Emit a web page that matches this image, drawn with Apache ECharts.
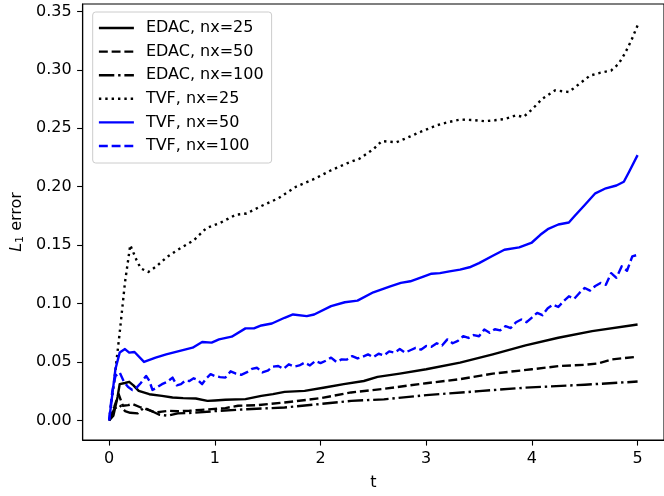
<!DOCTYPE html>
<html>
<head>
<meta charset="utf-8">
<script src="https://cdn.jsdelivr.net/npm/echarts@6/dist/echarts.min.js"></script>
<style>html,body{margin:0;padding:0;background:#fff}#c{width:664px;height:496px}</style>
</head>
<body>
<div id="c"></div>
<script>
// ---- data ----
const seriesNames = ['EDAC, nx=25', 'EDAC, nx=50', 'EDAC, nx=100', 'TVF, nx=25', 'TVF, nx=50', 'TVF, nx=100'];
const xTicks = [0, 1, 2, 3, 4, 5];
const yTicks = [0, 0.05, 0.10, 0.15, 0.20, 0.25, 0.30, 0.35];

const tEdac25 = [0, 0.04, 0.08, 0.1, 0.15, 0.19, 0.23, 0.28, 0.38, 0.5, 0.6, 0.7, 0.82, 0.93, 1.0, 1.1, 1.29, 1.44, 1.55, 1.66, 1.85, 2.04, 2.22, 2.41, 2.54, 2.75, 3.0, 3.32, 3.63, 3.94, 4.25, 4.57, 5.0];
const vEdac25 = [0, 0.004, 0.02, 0.031, 0.032, 0.033, 0.030, 0.0252, 0.0224, 0.021, 0.0196, 0.019, 0.0187, 0.0167, 0.017, 0.0176, 0.0182, 0.021, 0.0225, 0.0244, 0.0252, 0.0281, 0.031, 0.0337, 0.0372, 0.040, 0.0437, 0.0494, 0.0565, 0.0642, 0.0707, 0.0764, 0.082];

const tEdac50 = [0, 0.05, 0.09, 0.13, 0.18, 0.22, 0.3, 0.35, 0.44, 0.5, 0.57, 0.65, 0.76, 0.87, 0.97, 1.1, 1.22, 1.4, 1.66, 2.0, 2.29, 2.6, 3.0, 3.3, 3.63, 4.0, 4.26, 4.5, 4.63, 4.76, 5.0];
const vEdac50 = [0, 0.012, 0.0224, 0.0125, 0.013, 0.014, 0.011, 0.0096, 0.0068, 0.0075, 0.0082, 0.0078, 0.0082, 0.009, 0.0096, 0.0105, 0.0125, 0.013, 0.0153, 0.019, 0.0239, 0.027, 0.0318, 0.035, 0.040, 0.0437, 0.0465, 0.0475, 0.0488, 0.0522, 0.0545];

const tEdac100 = [0, 0.05, 0.1, 0.15, 0.2, 0.27, 0.33, 0.4, 0.47, 0.55, 0.65, 0.8, 1.04, 1.3, 1.66, 2.0, 2.29, 2.6, 3.0, 3.5, 3.94, 4.5, 5.0];
const vEdac100 = [0, 0.01, 0.013, 0.008, 0.0065, 0.006, 0.011, 0.008, 0.005, 0.004, 0.006, 0.0065, 0.0082, 0.0095, 0.011, 0.014, 0.0167, 0.018, 0.0216, 0.025, 0.028, 0.0305, 0.0332];

const tTvf25 = [0, 0.05, 0.1, 0.15, 0.2, 0.26, 0.3, 0.37, 0.45, 0.55, 0.65, 0.8, 0.92, 1.05, 1.2, 1.3, 1.43, 1.6, 1.77, 1.95, 2.1, 2.25, 2.37, 2.5, 2.58, 2.72, 2.85, 2.95, 3.1, 3.2, 3.32, 3.45, 3.55, 3.65, 3.75, 3.85, 3.92, 4.0, 4.1, 4.22, 4.35, 4.45, 4.55, 4.65, 4.75, 4.82, 4.88, 4.94, 5.0];
const vTvf25 = [0, 0.035, 0.075, 0.118, 0.150, 0.137, 0.130, 0.127, 0.132, 0.140, 0.146, 0.154, 0.1645, 0.169, 0.176, 0.177, 0.183, 0.190, 0.200, 0.207, 0.214, 0.220, 0.224, 0.232, 0.239, 0.238, 0.243, 0.247, 0.2525, 0.255, 0.2574, 0.257, 0.256, 0.2568, 0.258, 0.261, 0.2596, 0.266, 0.2753, 0.2824, 0.281, 0.288, 0.295, 0.2975, 0.2994, 0.305, 0.314, 0.325, 0.338];

const tTvf50 = [0, 0.03, 0.06, 0.1, 0.15, 0.19, 0.24, 0.33, 0.44, 0.54, 0.66, 0.79, 0.88, 0.97, 1.04, 1.16, 1.29, 1.37, 1.44, 1.54, 1.66, 1.74, 1.87, 1.94, 2.1, 2.23, 2.35, 2.5, 2.66, 2.76, 2.85, 2.98, 3.05, 3.13, 3.22, 3.32, 3.41, 3.5, 3.63, 3.74, 3.88, 4.0, 4.08, 4.15, 4.25, 4.35, 4.4, 4.5, 4.6, 4.7, 4.8, 4.87, 4.92, 5.0];
const vTvf50 = [0, 0.022, 0.044, 0.058, 0.061, 0.058, 0.0585, 0.050, 0.0537, 0.0565, 0.0593, 0.0622, 0.067, 0.0665, 0.0693, 0.0716, 0.0787, 0.0787, 0.0812, 0.0829, 0.0878, 0.0906, 0.0892, 0.0906, 0.0977, 0.1011, 0.1025, 0.1096, 0.1147, 0.1176, 0.119, 0.1232, 0.1255, 0.126, 0.1275, 0.129, 0.131, 0.1346, 0.1409, 0.146, 0.148, 0.1522, 0.1588, 0.1636, 0.1676, 0.1693, 0.1744, 0.1843, 0.1943, 0.1986, 0.201, 0.2042, 0.2127, 0.227];

const tTvf100 = [0, 0.03, 0.06, 0.1, 0.14, 0.18, 0.22, 0.26, 0.3, 0.35, 0.38, 0.41, 0.45, 0.5, 0.55, 0.6, 0.64, 0.68, 0.72, 0.76, 0.8, 0.84, 0.88, 0.92, 0.96, 1.0, 1.05, 1.1, 1.15, 1.2, 1.25, 1.3, 1.35, 1.4, 1.45, 1.5, 1.55, 1.6, 1.65, 1.7, 1.75, 1.8, 1.85, 1.9, 1.95, 2.0, 2.05, 2.1, 2.15, 2.2, 2.25, 2.3, 2.35, 2.4, 2.45, 2.5, 2.55, 2.6, 2.65, 2.7, 2.75, 2.8, 2.85, 2.9, 2.95, 3.0, 3.05, 3.1, 3.15, 3.2, 3.25, 3.3, 3.35, 3.4, 3.45, 3.5, 3.55, 3.6, 3.65, 3.7, 3.75, 3.8, 3.85, 3.9, 3.95, 4.0, 4.05, 4.1, 4.15, 4.2, 4.25, 4.3, 4.35, 4.4, 4.45, 4.5, 4.55, 4.6, 4.65, 4.7, 4.75, 4.8, 4.85, 4.9, 4.95, 5.0];
const vTvf100 = [0, 0.025, 0.038, 0.041, 0.033, 0.0285, 0.026, 0.028, 0.032, 0.038, 0.034, 0.026, 0.028, 0.031, 0.033, 0.0366, 0.030, 0.031, 0.034, 0.0337, 0.036, 0.0345, 0.031, 0.036, 0.0395, 0.038, 0.037, 0.0366, 0.042, 0.040, 0.039, 0.041, 0.044, 0.045, 0.041, 0.0425, 0.046, 0.0465, 0.044, 0.048, 0.046, 0.047, 0.0494, 0.047, 0.0508, 0.049, 0.051, 0.0537, 0.050, 0.0522, 0.052, 0.055, 0.053, 0.0545, 0.0565, 0.054, 0.057, 0.0555, 0.059, 0.058, 0.061, 0.058, 0.060, 0.062, 0.0605, 0.0636, 0.063, 0.066, 0.064, 0.0693, 0.066, 0.068, 0.072, 0.0705, 0.073, 0.072, 0.0778, 0.075, 0.078, 0.077, 0.0806, 0.079, 0.084, 0.0863, 0.084, 0.088, 0.092, 0.090, 0.096, 0.0991, 0.097, 0.102, 0.1062, 0.104, 0.109, 0.1133, 0.111, 0.115, 0.1176, 0.116, 0.126, 0.122, 0.1318, 0.128, 0.1403, 0.1417];

// ---- presentation ----
const FONT = 'DejaVu Sans';
const LW = 2.4;
const SOLID = 'solid';
const DASHED = [8.9, 3.84];
const DASHDOT = [15.4, 3.84, 2.4, 3.84];
const DOTTED = [2.4, 3.96];

function pairs(t, v) { return t.map((x, i) => [x, v[i]]); }

const defs = [
  [tEdac25, vEdac25, '#000000', SOLID],
  [tEdac50, vEdac50, '#000000', DASHED],
  [tEdac100, vEdac100, '#000000', DASHDOT],
  [tTvf25, vTvf25, '#000000', DOTTED],
  [tTvf50, vTvf50, '#0000ff', SOLID],
  [tTvf100, vTvf100, '#0000ff', DASHED]
];

const series = defs.map((d, i) => ({
  name: seriesNames[i],
  type: 'line',
  data: pairs(d[0], d[1]),
  symbol: 'none',
  showSymbol: false,
  color: d[2],
  lineStyle: { color: d[2], width: LW, type: d[3], cap: 'butt', join: 'round' },
  z: 2 + i
}));

const chart = echarts.init(document.getElementById('c'), null, { renderer: 'canvas' });
chart.setOption({
  animation: false,
  backgroundColor: '#ffffff',
  grid: { left: 82.7, right: -5.4, top: 4, bottom: 55, show: true, borderColor: '#000', borderWidth: 1.1, backgroundColor: 'transparent' },
  legend: {
    orient: 'vertical', left: 92.7, top: 12,
    itemWidth: 35, itemHeight: 14, itemGap: 7.6,
    padding: [8, 8, 9, 5],
    borderColor: '#cccccc', borderWidth: 1, borderRadius: 3,
    backgroundColor: 'rgba(255,255,255,0.8)',
    textStyle: { fontFamily: FONT, fontSize: 16, color: '#000', padding: [0, 0, 0, 7] },
    itemStyle: { opacity: 0, borderWidth: 0 },
    lineStyle: { width: LW, opacity: 1 },
    data: seriesNames
  },
  xAxis: {
    type: 'value', min: -0.25, max: 5.25,
    name: 't', nameLocation: 'middle', nameGap: 35,
    nameTextStyle: { fontFamily: FONT, fontSize: 16, color: '#000' },
    axisLine: { show: true, onZero: false, lineStyle: { color: '#000', width: 1.1 } },
    axisTick: { show: true, length: 5.6, lineStyle: { color: '#000', width: 1.1 }, customValues: xTicks },
    axisLabel: { fontFamily: FONT, fontSize: 16, color: '#000', margin: 11, customValues: xTicks, formatter: v => String(Math.round(v)) },
    splitLine: { show: false }
  },
  yAxis: {
    type: 'value', min: -0.0168, max: 0.3563,
    name: '{i|L}{s|1} error', nameLocation: 'middle', nameGap: 50, nameRotate: 90,
    nameTextStyle: {
      fontFamily: FONT, fontSize: 16, color: '#000',
      rich: {
        i: { fontFamily: FONT, fontSize: 16, fontStyle: 'italic', color: '#000' },
        s: { fontFamily: FONT, fontSize: 11, color: '#000', verticalAlign: 'bottom', padding: [6, 0, 0, 0] }
      }
    },
    axisLine: { show: true, onZero: false, lineStyle: { color: '#000', width: 1.1 } },
    axisTick: { show: true, length: 5.6, lineStyle: { color: '#000', width: 1.1 }, customValues: yTicks },
    axisLabel: { fontFamily: FONT, fontSize: 16, color: '#000', margin: 11, customValues: yTicks, formatter: v => v.toFixed(2) },
    splitLine: { show: false }
  },
  series: series
});
</script>
</body>
</html>
